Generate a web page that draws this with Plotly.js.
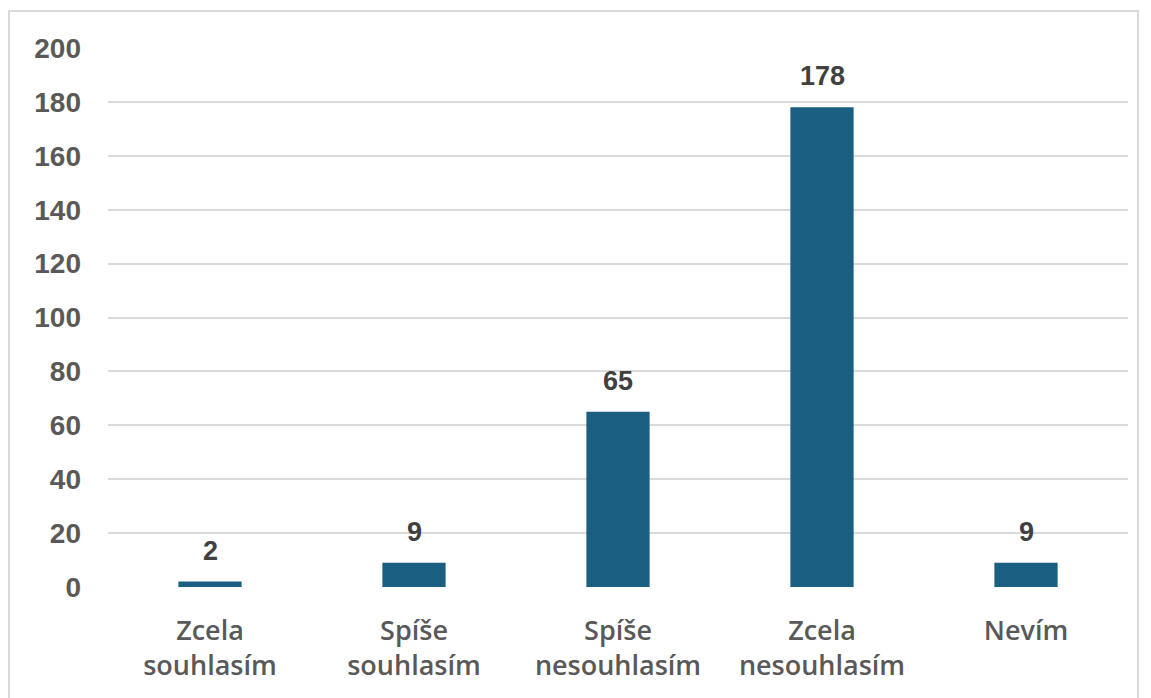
<!DOCTYPE html>
<html>
<head>
<meta charset="utf-8">
<script src="https://cdn.plot.ly/plotly-3.0.1.min.js"></script>
<style>
html,body{margin:0;padding:0;background:#fff;overflow:hidden;}
#wrap{position:relative;width:1151px;height:698px;}
#chart{position:absolute;left:0;top:0;width:1151px;height:698px;}
#frame{position:absolute;left:8px;top:10px;width:1131px;height:700px;border:2px solid #d9d9d9;box-sizing:border-box;pointer-events:none;}
</style>
</head>
<body>
<div id="wrap"><div id="chart"></div><div id="frame"></div></div>
<script>
const categories = ["Zcela<br>souhlasím", "Spíše<br>souhlasím", "Spíše<br>nesouhlasím", "Zcela<br>nesouhlasím", "Nevím"];
const values = [2, 9, 65, 178, 9];
const yTicks = [0, 20, 40, 60, 80, 100, 120, 140, 160, 180, 200];

const trace = {
  type: 'bar',
  x: categories,
  y: values,
  marker: {color: '#1a5e81'},
  hoverinfo: 'none'
};

const labelAnnotations = categories.map((c, i) => ({
  x: c,
  y: values[i],
  xref: 'x',
  yref: 'y',
  text: String(values[i]),
  showarrow: false,
  yanchor: 'bottom',
  yshift: 14,
  font: {family: 'Liberation Sans, Arial, sans-serif', size: 27, color: '#404040', weight: 'bold'}
}));

const layout = {
  width: 1151,
  height: 698,
  margin: {l: 108, r: 23, t: 48, b: 111},
  paper_bgcolor: 'rgba(0,0,0,0)',
  plot_bgcolor: '#ffffff',
  bargap: 0.69,
  showlegend: false,
  annotations: labelAnnotations,
  xaxis: {
    type: 'category',
    showgrid: false,
    showline: false,
    ticks: '',
    tickfont: {family: 'Open Sans, sans-serif', size: 27, color: '#595959', weight: 600},
    ticklabelstandoff: 25
  },
  yaxis: {
    range: [0, 200],
    tickvals: yTicks,
    ticktext: yTicks.map(String),
    showgrid: true,
    gridcolor: '#d9d9d9',
    gridwidth: 2,
    zeroline: false,
    showline: false,
    ticks: '',
    tickfont: {family: 'Liberation Sans, Arial, sans-serif', size: 28, color: '#595959', weight: 'bold'},
    ticklabelstandoff: 26
  }
};

Plotly.newPlot('chart', [trace], layout, {displayModeBar: false, staticPlot: true});
</script>
</body>
</html>
